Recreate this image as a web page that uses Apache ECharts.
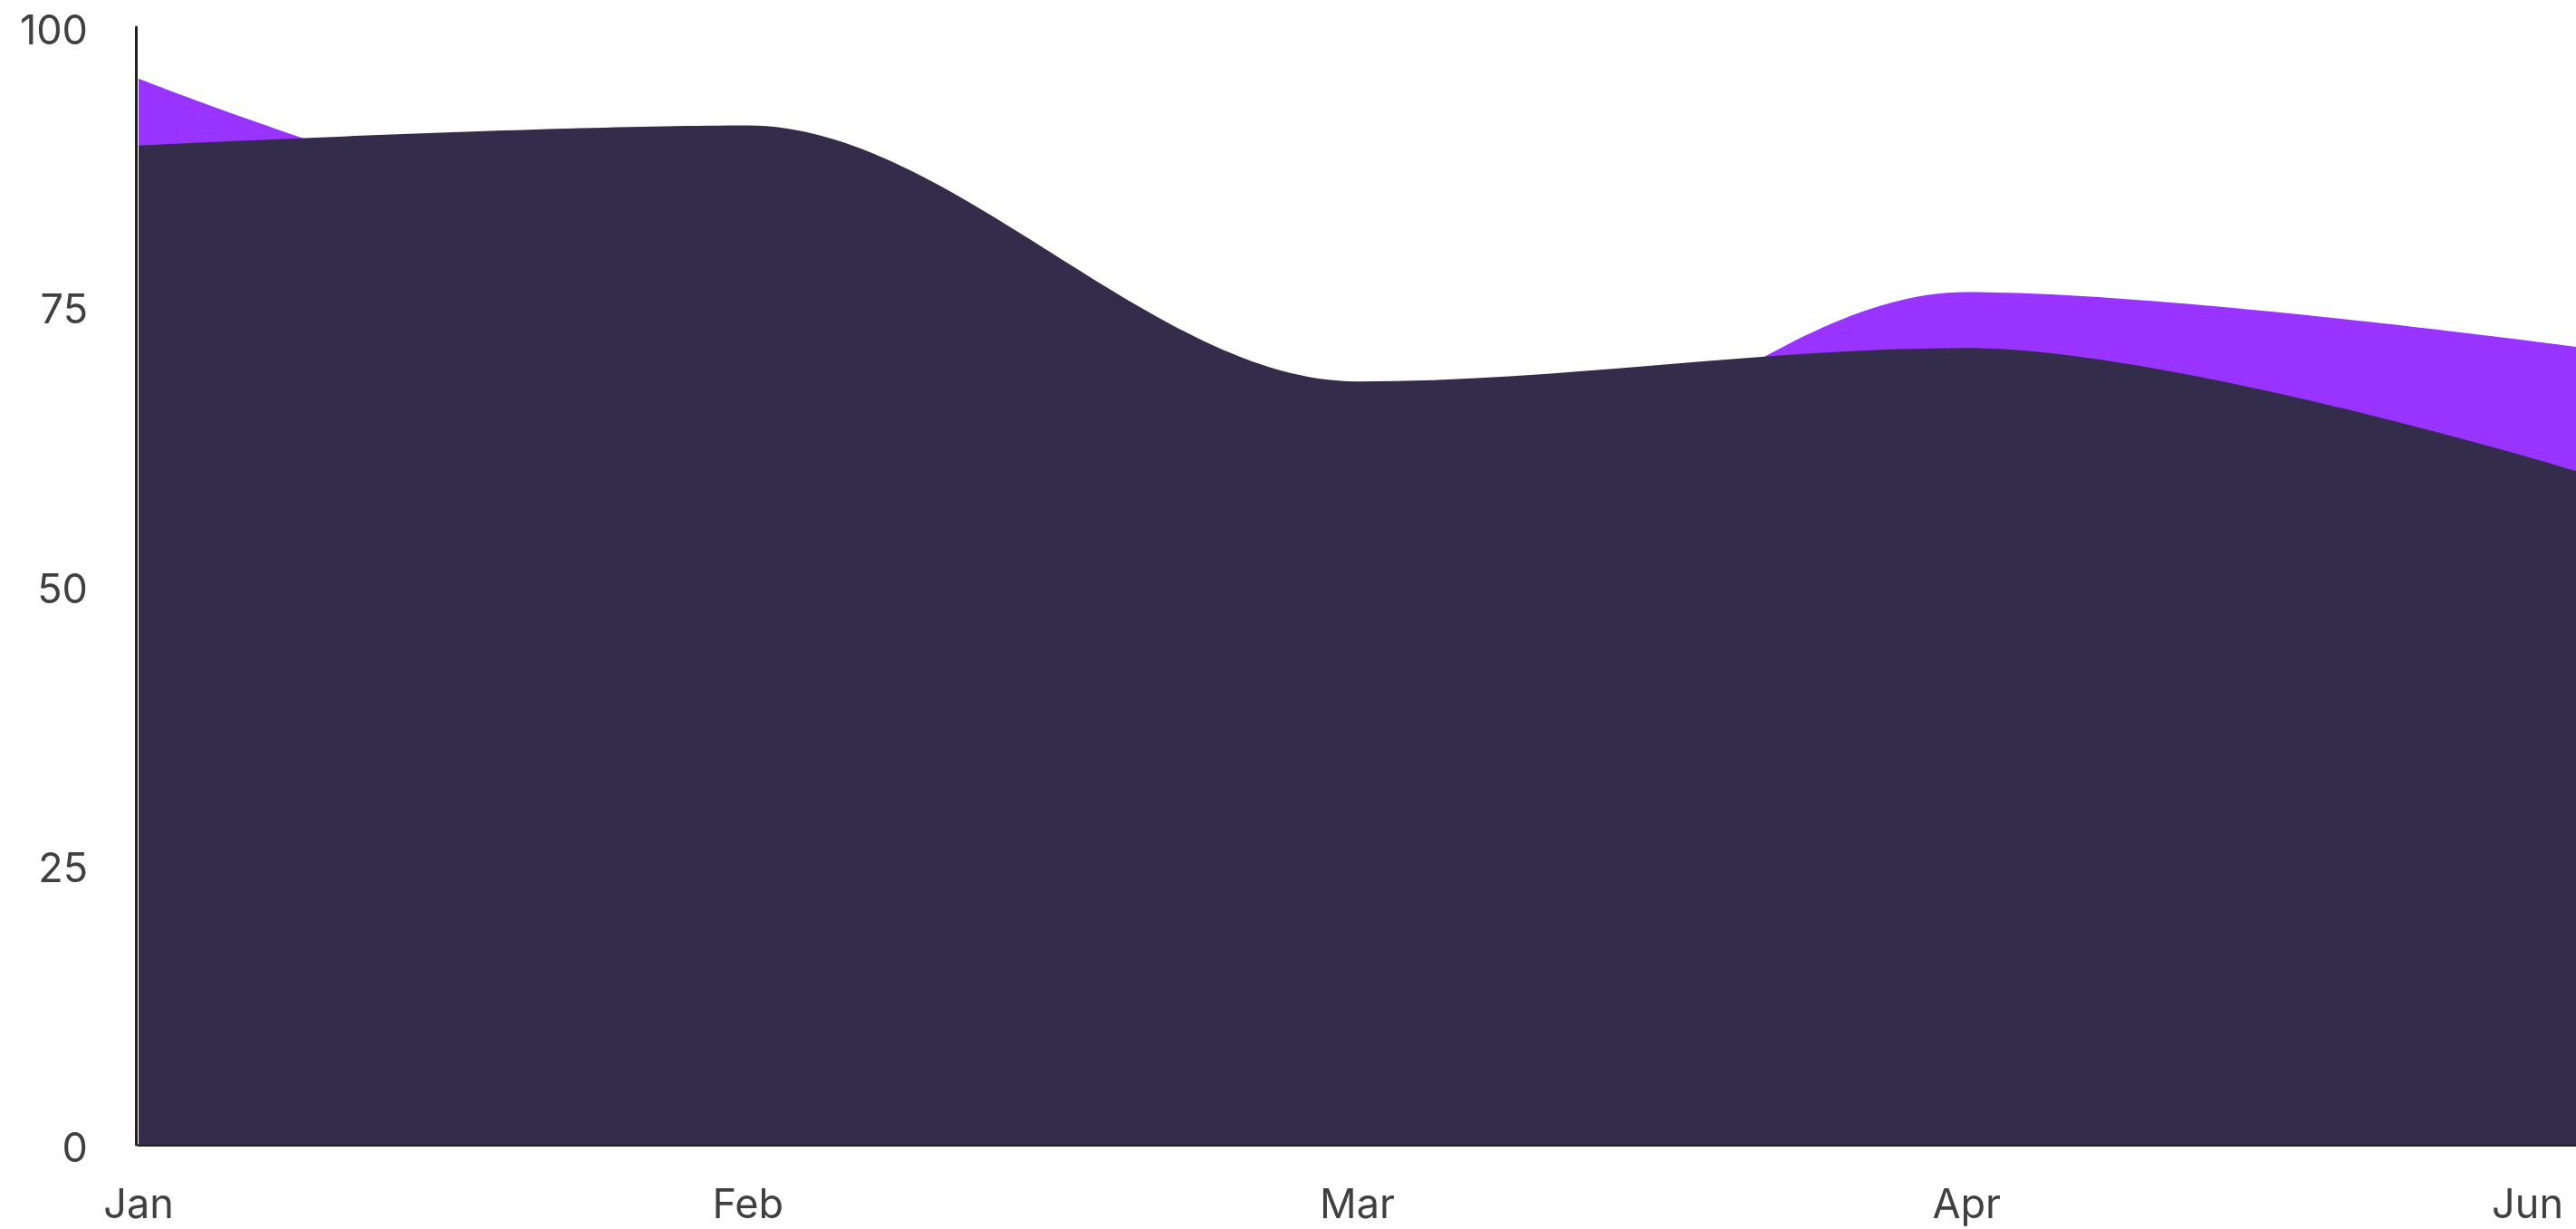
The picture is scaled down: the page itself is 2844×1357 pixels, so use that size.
<!DOCTYPE html>
<html>
<head>
<meta charset="utf-8">
<script src="https://cdn.jsdelivr.net/npm/echarts@6/dist/echarts.min.js"></script>
<style>
  html, body { margin: 0; padding: 0; background: #ffffff; }
  #chart { width: 2844px; height: 1357px; }
</style>
</head>
<body>
<div id="chart"></div>
<script>
const categories = ['Jan', 'Feb', 'Mar', 'Apr', 'Jun'];
const purpleValues = [95.4, 81, 53.8, 76.3, 71.4];
const darkValues = [89.4, 91.2, 68.3, 71.3, 60.3];
const yTicks = [0, 25, 50, 75, 100];

const labelStyle = { color: '#404040', fontFamily: 'Inter', fontSize: 45 };

const chart = echarts.init(document.getElementById('chart'));
chart.setOption({
  animation: false,
  backgroundColor: '#ffffff',
  grid: { left: 153, right: 0, top: 30, bottom: 93 },
  xAxis: {
    type: 'category',
    data: categories,
    boundaryGap: false,
    axisLine: { show: true, lineStyle: { color: '#222222', width: 3 } },
    axisTick: { show: false },
    splitLine: { show: false },
    axisLabel: Object.assign({}, labelStyle, {
      margin: 45,
      alignMaxLabel: 'right',
      formatter: function (v, i) {
        return i === categories.length - 1 ? '{last|' + v + '}' : v;
      },
      rich: { last: Object.assign({}, labelStyle, { padding: [0, 14, 0, 0] }) }
    })
  },
  yAxis: {
    type: 'value',
    min: yTicks[0],
    max: yTicks[yTicks.length - 1],
    interval: 25,
    offset: 3,
    axisLine: { show: true, lineStyle: { color: '#222222', width: 3 } },
    axisTick: { show: false },
    splitLine: { show: false },
    axisLabel: Object.assign({}, labelStyle, {
      margin: 53,
      formatter: function (v) { return '{t|' + v + '}'; },
      rich: { t: Object.assign({}, labelStyle, { padding: [10, 0, 0, 0] }) }
    })
  },
  series: [
    {
      name: 'A',
      type: 'line',
      data: purpleValues,
      smooth: 0.3333,
      smoothMonotone: 'x',
      symbol: 'none',
      lineStyle: { width: 0 },
      areaStyle: { color: '#9933ff', opacity: 1 },
      z: 2
    },
    {
      name: 'B',
      type: 'line',
      data: darkValues,
      smooth: 0.3333,
      smoothMonotone: 'x',
      symbol: 'none',
      lineStyle: { width: 0 },
      areaStyle: { color: '#332d4b', opacity: 1 },
      z: 3
    }
  ]
});
</script>
</body>
</html>
